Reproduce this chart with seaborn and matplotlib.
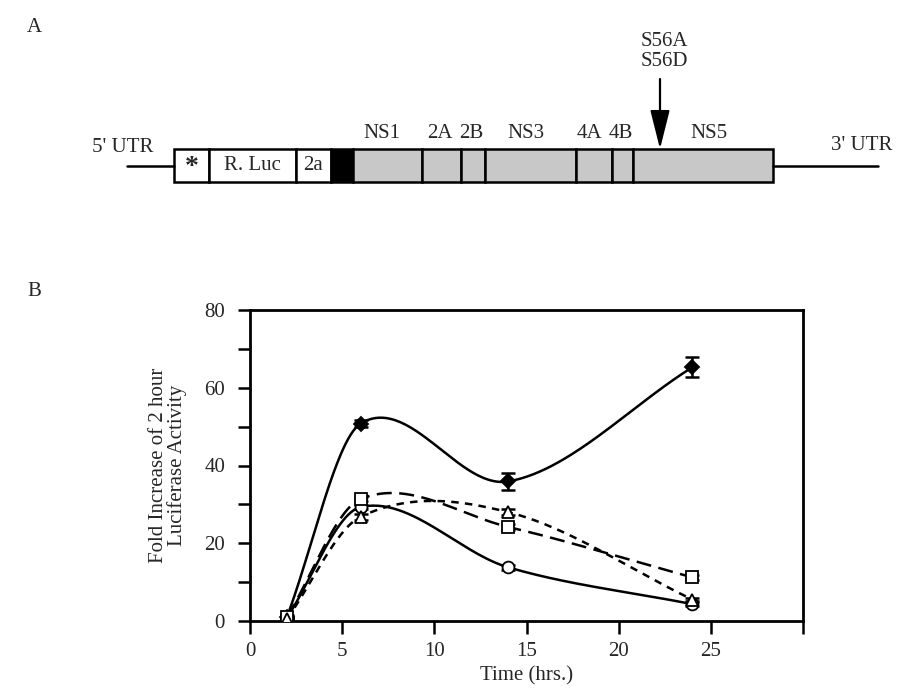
import numpy as np
import pandas as pd
import matplotlib
matplotlib.use("Agg")
import matplotlib.pyplot as plt
import seaborn as sns
from matplotlib.patches import Rectangle

# time points (hrs)
hours = [2, 6, 14, 24]

# fold increase of 2 h luciferase activity, per replicon
wt_diamond = [1.0, 50.8, 35.9, 65.3]
wt_diamond_err = [0.5, 1.0, 2.2, 2.6]
circle_vals = [0.8, 29.3, 13.8, 4.3]
circle_err = [0.3, 0.6, 0.6, 0.5]
square_vals = [1.0, 31.4, 24.2, 11.2]
square_err = [0.3, 0.6, 0.7, 0.6]
triangle_vals = [0.5, 26.8, 28.0, 5.5]
triangle_err = [0.3, 0.8, 0.8, 0.5]

# replicon map (panel A)
seg_names = ["*", "R. Luc", "2a", ""]
gene_names = ["NS1", "2A", "2B", "NS3", "4A", "4B", "NS5"]


def smooth(x, y, n=60):
    # Catmull-Rom style cubic Hermite, only used to draw the smooth connecting curve
    x = np.asarray(x, float)
    y = np.asarray(y, float)
    k = len(x)
    m = np.zeros(k)
    m[0] = (y[1] - y[0]) / (x[1] - x[0])
    m[-1] = (y[-1] - y[-2]) / (x[-1] - x[-2])
    for i in range(1, k - 1):
        m[i] = (y[i + 1] - y[i - 1]) / (x[i + 1] - x[i - 1])
    xs_all, ys_all = [], []
    for i in range(k - 1):
        h = x[i + 1] - x[i]
        t = np.linspace(0, 1, n)
        h00 = 2 * t**3 - 3 * t**2 + 1
        h10 = t**3 - 2 * t**2 + t
        h01 = -2 * t**3 + 3 * t**2
        h11 = t**3 - t**2
        xs_all.append(x[i] + t * h)
        ys_all.append(h00 * y[i] + h10 * h * m[i] + h01 * y[i + 1] + h11 * h * m[i + 1])
    return np.concatenate(xs_all), np.concatenate(ys_all)


sns.set_theme(style="white")
plt.rcParams["font.family"] = ["Liberation Serif", "DejaVu Serif"]
plt.rcParams["font.size"] = 15

fig = plt.figure(figsize=(9.01, 7.0), dpi=100)

# ---- panel A: drawn in pixel coordinates ----
top = fig.add_axes([0, 0, 1, 1])
top.set_xlim(0, 901)
top.set_ylim(700, 0)
top.axis("off")

top.text(34, 27, "A", fontsize=15, va="center", ha="center")
top.text(34, 292, "B", fontsize=15, va="center", ha="center")

ytop, ybot = 149, 182
ymid = (ytop + ybot) / 2
top.plot([127, 174], [ymid, ymid], color="black", lw=1.8)
top.plot([773, 878], [ymid, ymid], color="black", lw=1.8)
top.text(123, 148, "5' UTR", ha="center", va="center", fontsize=15)
top.text(862, 145, "3' UTR", ha="center", va="center", fontsize=15)

edges = [174, 209, 296, 331, 353]
for l, r, name in zip(edges[:-1], edges[1:], seg_names):
    face = "black" if l == 331 else "white"
    top.add_patch(Rectangle((l, ytop), r - l, ybot - ytop, facecolor=face,
                            edgecolor="black", lw=1.8))
    if name:
        top.text((l + r) / 2, ymid + (2 if name == "*" else 0), name,
                 ha="center", va="center",
                 fontsize=20 if name == "*" else 15,
                 fontweight="bold" if name == "*" else "normal")

gedges = [353, 422, 461, 485, 576, 612, 633, 773]
label_x = [382, 440, 471, 526, 589, 621, 709]
for l, r in zip(gedges[:-1], gedges[1:]):
    top.add_patch(Rectangle((l, ytop), r - l, ybot - ytop, facecolor="#c8c8c8",
                            edgecolor="black", lw=1.8))
for x, name in zip(label_x, gene_names):
    top.text(x, 134, name, ha="center", va="center", fontsize=15)

top.annotate("", xy=(660, ytop), xytext=(660, 79),
             arrowprops=dict(arrowstyle="-|>,head_length=1.6,head_width=0.4",
                             color="black", lw=1.6, shrinkA=0, shrinkB=0))
top.text(664, 41, "S56A", ha="center", va="center", fontsize=15)
top.text(664, 62, "S56D", ha="center", va="center", fontsize=15)

# ---- panel B ----
ax = fig.add_axes([0.2775, 0.113, 0.6138, 0.444])

series = [
    (wt_diamond, wt_diamond_err, "D", "black", "-", 7.5),
    (circle_vals, circle_err, "o", "white", "-", 8.5),
    (square_vals, square_err, "s", "white", (0, (6, 3)), 9),
    (triangle_vals, triangle_err, "^", "white", (0, (3, 2.5)), 9),
]

for vals, err, mk, fc, ls, ms in series:
    xs, ys = smooth(hours, vals)
    sns.lineplot(x=xs, y=ys, ax=ax, color="black", lw=1.8, linestyle=ls,
                 sort=False, estimator=None)
    ax.errorbar(hours, vals, yerr=err, fmt="none", ecolor="black",
                elinewidth=1.8, capsize=5, capthick=1.8, zorder=3)
    df = pd.DataFrame({"t": hours, "v": vals})
    ax.plot(df["t"], df["v"], linestyle="none", marker=mk, markersize=ms,
            markerfacecolor=fc, markeredgecolor="black", markeredgewidth=1.3,
            zorder=4)

ax.set_xlim(0, 30)
ax.set_ylim(0, 80)
ax.set_xticks([0, 5, 10, 15, 20, 25, 30])
ax.set_xticklabels(["0", "5", "10", "15", "20", "25", ""])
ax.set_yticks([0, 20, 40, 60, 80])
ax.set_yticks([10, 30, 50, 70], minor=True)
ax.tick_params(axis="both", which="both", direction="out", length=9,
               width=1.8, labelsize=15, color="black",
               bottom=True, left=True, top=False, right=False)
ax.tick_params(axis="y", pad=9)
ax.tick_params(axis="x", pad=6)
for sp in ax.spines.values():
    sp.set_visible(True)
    sp.set_color("black")
    sp.set_linewidth(2)

ax.set_xlabel("Time (hrs.)", fontsize=15, labelpad=4)
ax.set_ylabel("Fold Increase of 2 hour\nLuciferase Activity", fontsize=15,
              labelpad=12, linespacing=1.0)

fig.savefig("out.png", dpi=100)
